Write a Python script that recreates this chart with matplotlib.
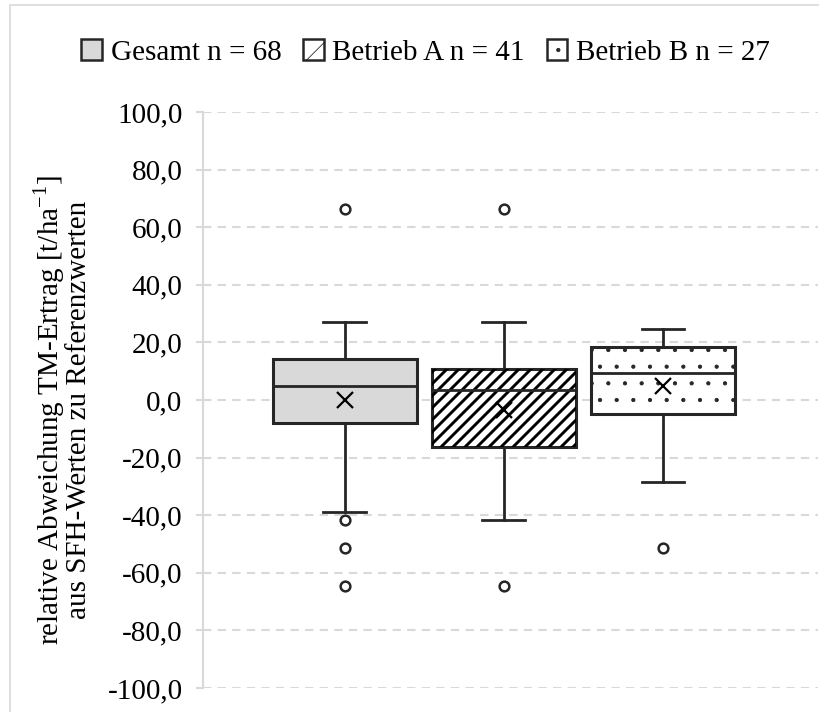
import matplotlib
matplotlib.use('Agg')
import matplotlib.pyplot as plt
from matplotlib.patches import Patch, Rectangle
from matplotlib.collections import LineCollection
import numpy as np

plt.rcParams['font.family'] = ['Liberation Serif', 'DejaVu Serif']
plt.rcParams['mathtext.fontset'] = 'custom'
plt.rcParams['mathtext.rm'] = 'Liberation Serif'
plt.rcParams['hatch.color'] = '#262626'
plt.rcParams['hatch.linewidth'] = 0.6

# Kennwerte der Boxplots (rel. Abweichung in %)
groups = ['Gesamt', 'Betrieb A', 'Betrieb B']
n_values = [68, 41, 27]
q1 = [-8.0, -16.3, -5.0]
medians = [5.0, 3.6, 9.3]
q3 = [14.4, 10.8, 18.3]
whis_low = [-38.8, -41.7, -28.4]
whis_high = [27.0, 27.0, 24.8]
means = [0.0, -3.5, 5.0]
outliers = [[66.4, -41.7, -51.5, -64.5], [66.4, -64.5], [-51.5]]

y_ticks = np.arange(-100, 101, 20)
y_ticklabels = [f'{v:.1f}'.replace('.', ',') for v in y_ticks]

dark = '#262626'
grey_fill = '#d9d9d9'
light = '#d9d9d9'
fs = 21

fig = plt.figure(figsize=(8.2, 7.12), dpi=100)
ax = fig.add_axes([0.248, 0.0337, 0.7496, 0.809])

stats = []
for i, g in enumerate(groups):
    stats.append(dict(label=g, q1=q1[i], med=medians[i], q3=q3[i],
                      whislo=whis_low[i], whishi=whis_high[i],
                      mean=means[i], fliers=outliers[i]))

line_kw = dict(color=dark, linewidth=2)
bp = ax.bxp(stats, positions=[1, 2, 3], widths=0.91, capwidths=0.27,
            patch_artist=True, showmeans=True, meanline=False,
            boxprops=dict(edgecolor=dark, linewidth=2.2),
            medianprops=dict(color=dark, linewidth=2),
            whiskerprops=line_kw, capprops=line_kw,
            meanprops=dict(marker='x', markersize=12, markeredgewidth=1.6,
                           markeredgecolor='black'),
            flierprops=dict(marker='o', markersize=7, markerfacecolor='white',
                            markeredgecolor=dark, markeredgewidth=1.8))

bp['boxes'][0].set_facecolor(grey_fill)
bp['boxes'][1].set_facecolor('white')
bp['boxes'][2].set_facecolor('white')
bp['boxes'][2].set_hatch('.')

# Schraffur Betrieb A: diagonale Streifen im Pixelraster
step = 0.12
W, H = 8.2, 7.12
segs = [[(x0, 0), (x0 + H, H)] for x0 in np.arange(-H, W + step, step)]
stripes = LineCollection(segs, colors='black', linewidths=2.1,
                         transform=fig.dpi_scale_trans, zorder=2.05)
ax.add_collection(stripes, autolim=False)
stripes.set_clip_path(bp['boxes'][1])

ax.set_xlim(0.11, 3.975)
ax.set_ylim(-100, 100)
ax.set_yticks(y_ticks)
ax.set_yticklabels(y_ticklabels)
ax.set_xticks([])

for side in ['top', 'right', 'bottom']:
    ax.spines[side].set_visible(False)
ax.spines['left'].set_color(light)
ax.spines['left'].set_linewidth(1.5)
ax.tick_params(axis='y', length=5, width=1.5, color=light, pad=10,
               labelsize=fs, labelcolor='black')
ax.yaxis.grid(True, color=light, linewidth=1.5, linestyle=(0, (4, 3)))
ax.set_axisbelow(True)

fig.text(0.075, 0.424,
         'relative Abweichung TM-Ertrag [t/ha$^{\\mathregular{-1}}$]\n'
         'aus SFH-Werten zu Referenzwerten',
         rotation=90, ha='center', va='center', multialignment='center',
         fontsize=fs, linespacing=0.95)

handles = [Patch(facecolor=grey_fill, edgecolor=dark, linewidth=1.8),
           Patch(facecolor='white', edgecolor=dark, linewidth=1.8, hatch='/'),
           Patch(facecolor='white', edgecolor=dark, linewidth=1.8, hatch='.')]
if hasattr(handles[1], 'set_hatch_linewidth'):
    handles[1].set_hatch_linewidth(3.5)
labels = [f'{g} n = {n}' for g, n in zip(groups, n_values)]
fig.legend(handles, labels, loc='center', bbox_to_anchor=(0.519, 0.926),
           ncol=3, frameon=False, fontsize=fs, handlelength=0.7,
           handleheight=0.7, handletextpad=0.3, columnspacing=0.75)

# Rahmen des Diagrammbereichs
fig.add_artist(Rectangle((10 / 820, -0.05), 1.1, 1 - 5 / 712 + 0.05,
                         transform=fig.transFigure, fill=False,
                         edgecolor=light, linewidth=1.2))

fig.savefig('out.png', dpi=100)
